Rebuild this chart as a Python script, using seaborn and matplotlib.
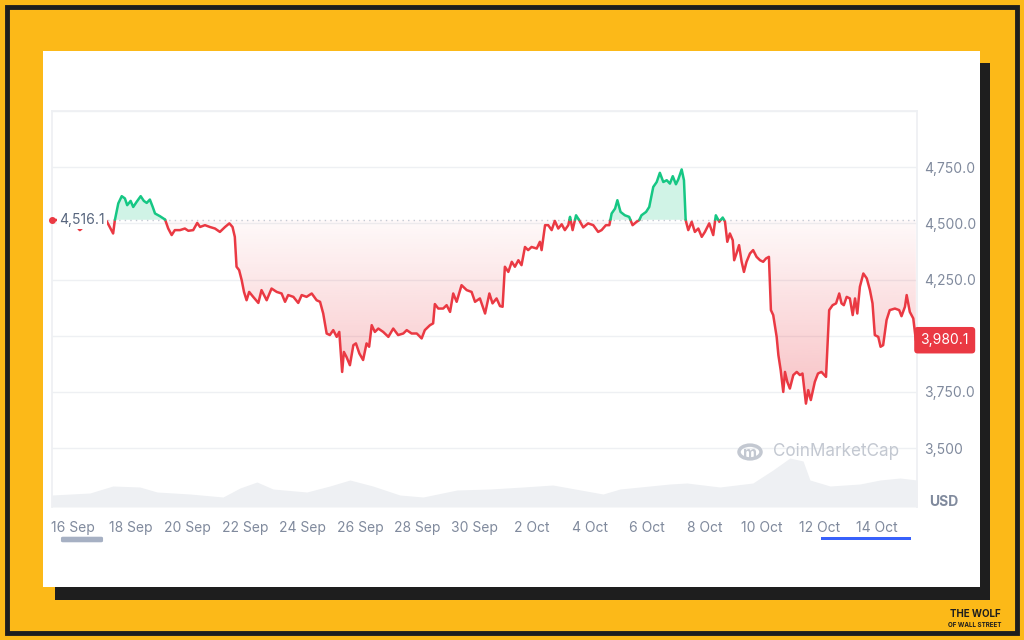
import numpy as np
import pandas as pd
import seaborn as sns
import matplotlib.pyplot as plt
from matplotlib.patches import Rectangle, FancyBboxPatch, Circle
from matplotlib.path import Path
from matplotlib.colors import to_rgb

# price history, days counted from 16 Sep 00:00
price_day = [-0.73, -0.45, -0.10, 0.24, 0.59, 0.94, 1.17, 1.40, 1.46, 1.58, 1.70, 1.81, 1.89, 2.01, 2.10,
             2.22, 2.36, 2.47, 2.57, 2.68, 2.78, 2.86, 3.03, 3.21, 3.32, 3.44, 3.55, 3.73, 3.90, 4.02,
             4.19, 4.33, 4.43, 4.60, 4.77, 4.95, 5.12, 5.30, 5.45, 5.56, 5.64, 5.70, 5.79, 5.88, 5.96,
             6.05, 6.14, 6.28, 6.46, 6.57, 6.75, 6.92, 7.10, 7.27, 7.39, 7.50, 7.68, 7.85, 7.97, 8.14,
             8.32, 8.49, 8.61, 8.72, 8.84, 8.95, 9.07, 9.19, 9.28, 9.38, 9.44, 9.53, 9.65, 9.77, 9.86,
             9.98, 10.11, 10.23, 10.32, 10.41, 10.52, 10.64, 10.81, 10.99, 11.16, 11.33, 11.51, 11.63,
             11.80, 11.98, 12.15, 12.26, 12.44, 12.55, 12.61, 12.73, 12.90, 13.02, 13.14, 13.25, 13.37,
             13.54, 13.72, 13.89, 14.01, 14.18, 14.36, 14.51, 14.62, 14.76, 14.88, 14.97, 15.05, 15.17,
             15.29, 15.40, 15.52, 15.63, 15.75, 15.86, 15.98, 16.16, 16.27, 16.33, 16.45, 16.56, 16.68,
             16.79, 16.91, 17.03, 17.14, 17.26, 17.32, 17.41, 17.53, 17.64, 17.78, 17.95, 18.13, 18.30,
             18.42, 18.57, 18.69, 18.77, 18.89, 18.97, 19.08, 19.23, 19.38, 19.50, 19.64, 19.73, 19.81,
             19.97, 20.08, 20.22, 20.34, 20.45, 20.57, 20.69, 20.80, 20.90, 21.01, 21.09, 21.21, 21.29,
             21.35, 21.44, 21.56, 21.67, 21.79, 21.91, 22.02, 22.17, 22.31, 22.40, 22.52, 22.64, 22.72,
             22.80, 22.89, 22.99, 23.04, 23.12, 23.21, 23.30, 23.38, 23.47, 23.59, 23.70, 23.82, 23.94,
             24.05, 24.15, 24.25, 24.32, 24.40, 24.52, 24.58, 24.66, 24.75, 24.81, 24.89, 24.98, 25.10,
             25.22, 25.33, 25.42, 25.54, 25.62, 25.71, 25.85, 25.96, 26.08, 26.24, 26.35, 26.47, 26.59,
             26.70, 26.78, 26.86, 26.96, 27.07, 27.17, 27.25, 27.33, 27.42, 27.54, 27.66, 27.77, 27.86,
             27.94, 28.06, 28.14, 28.23, 28.35, 28.46, 28.64, 28.79, 28.87, 28.99, 29.05, 29.16, 29.28,
             29.37]
price = [4516, 4514, 4520, 4470, 4512, 4510, 4511, 4455, 4514, 4589, 4621, 4611, 4581, 4600, 4573,
         4596, 4621, 4600, 4591, 4606, 4573, 4544, 4532, 4517, 4477, 4448, 4470, 4470, 4477, 4467,
         4470, 4502, 4484, 4492, 4484, 4477, 4462, 4484, 4500, 4484, 4440, 4307, 4292, 4247, 4195,
         4158, 4195, 4173, 4146, 4203, 4158, 4210, 4195, 4188, 4151, 4181, 4173, 4146, 4181, 4173,
         4188, 4158, 4151, 4099, 4010, 4003, 4025, 3995, 4017, 3839, 3928, 3906, 3869, 3958, 3966,
         3921, 3892, 3966, 3951, 4047, 4017, 4032, 4017, 3995, 4032, 4003, 4010, 4025,
         4010, 4010, 3988, 4025, 4047, 4055, 4141, 4121, 4121, 4136, 4106, 4188, 4151,
         4225, 4203, 4195, 4151, 4166, 4099, 4188, 4144, 4166, 4132, 4129, 4307, 4284,
         4329, 4307, 4336, 4314, 4395, 4381, 4395, 4388, 4418, 4381, 4492, 4492, 4470,
         4511, 4477, 4496, 4470, 4492, 4529, 4470, 4536, 4514, 4482, 4500, 4492, 4462,
         4470, 4492, 4492, 4544, 4566, 4603, 4551, 4536, 4529, 4492, 4507, 4514, 4536,
         4551, 4573, 4662, 4684, 4725, 4684, 4692, 4677, 4710, 4674, 4695, 4740, 4692,
         4514, 4470, 4507, 4462, 4477, 4440, 4462, 4500, 4448, 4536, 4507, 4526, 4507,
         4418, 4455, 4425, 4336, 4366, 4403, 4329, 4284, 4329, 4366, 4381, 4351, 4336,
         4329, 4344, 4351, 4114, 4092, 3995, 3914, 3847, 3750, 3839, 3795, 3765, 3825,
         3839, 3825, 3832, 3698, 3758, 3714, 3795, 3832, 3839, 3817, 4114, 4136, 4144,
         4188, 4144, 4136, 4173, 4166, 4092, 4166, 4099, 4218, 4277, 4255, 4203, 4144,
         4003, 3995, 3951, 3958, 4070, 4114, 4121, 4114, 4087, 4129, 4181, 4106, 4077,
         3980.1]

vol_day = [-0.73, 0.59, 1.39, 2.33, 2.93, 4.08, 5.23, 5.82, 6.41, 6.97, 8.15, 8.95, 9.65, 10.45,
           11.39, 12.20, 13.38, 14.53, 15.68, 16.72, 18.47, 19.06, 20.80, 21.39, 22.54, 23.69,
           24.39, 24.98, 25.44, 25.68, 26.38, 27.42, 28.12, 28.82, 29.41]
volume = [12, 14, 21, 20, 15, 13, 10, 19, 25, 18, 15, 21, 27, 21,
          12, 10, 17, 18, 20, 22, 13, 18, 23, 24, 20, 24,
          37, 49, 46, 27, 21, 23, 27, 29, 27]

open_price = 4516.1
last_price = 3980.1
date_ticks = list(range(0, 29, 2))
date_labels = ['16 Sep', '18 Sep', '20 Sep', '22 Sep', '24 Sep', '26 Sep', '28 Sep', '30 Sep',
               '2 Oct', '4 Oct', '6 Oct', '8 Oct', '10 Oct', '12 Oct', '14 Oct']
price_ticks = [3500, 3750, 4000, 4250, 4500, 4750, 5000]
price_tick_labels = ['3,500', '3,750.0', '', '4,250.0', '4,500.0', '4,750.0', '']

RED = '#ea3943'
GREEN = '#16c784'
GREY_TXT = '#808a9d'

sns.set_theme(style='white')
plt.rcParams['font.family'] = ['Inter', 'DejaVu Sans']

fig = plt.figure(figsize=(10.24, 6.4), dpi=100)
fig.patch.set_facecolor('#fcb918')

# frame, shadow and white card
fig.add_artist(Rectangle((7 / 1024, 7 / 640), 1010 / 1024, 626 / 640, transform=fig.transFigure,
                         fill=False, ec='#1e1e1e', lw=3.5, zorder=-3))
fig.add_artist(Rectangle((55 / 1024, 40 / 640), 935 / 1024, 537 / 640, transform=fig.transFigure,
                         fc='#1e1e1e', ec='none', zorder=-2))
fig.add_artist(Rectangle((43 / 1024, 53 / 640), 937 / 1024, 536 / 640, transform=fig.transFigure,
                         fc='white', ec='none', zorder=-1))

pos = [52 / 1024, 133 / 640, 865 / 1024, 396 / 640]
xlim = (-0.73, 29.41)

# volume in the background
vax = fig.add_axes(pos)
vax.fill_between(vol_day, volume, color='#eef0f3', lw=0)
vax.set_xlim(xlim)
vax.set_ylim(0, 396)
vax.axis('off')

ax = fig.add_axes(pos)
ax.patch.set_visible(False)

# split the line where it crosses the opening price
xs, ys = [price_day[0]], [price[0]]
for i in range(1, len(price_day)):
    x0, y0, x1, y1 = price_day[i - 1], price[i - 1], price_day[i], price[i]
    if (y0 - open_price) * (y1 - open_price) < 0:
        t = (open_price - y0) / (y1 - y0)
        xs.append(x0 + t * (x1 - x0))
        ys.append(open_price)
    xs.append(x1)
    ys.append(y1)
xs, ys = np.array(xs), np.array(ys)

rows = []
unit, prev = 0, None
for k in range(len(xs) - 1):
    side = 'up' if (ys[k] + ys[k + 1]) / 2 >= open_price else 'down'
    if side != prev:
        unit += 1
        rows.append((xs[k], ys[k], unit, side))
        prev = side
    rows.append((xs[k + 1], ys[k + 1], unit, side))
line_df = pd.DataFrame(rows, columns=['day', 'price', 'unit', 'side'])

# fills
ax.fill_between(xs, ys, open_price, where=ys >= open_price, color=GREEN, alpha=0.2, lw=0)
below = ax.fill_between(xs, ys, open_price, where=ys <= open_price, color='none', lw=0)
grad = np.zeros((256, 1, 4))
grad[..., :3] = to_rgb(RED)
grad[:, 0, 3] = np.linspace(0.03, 0.32, 256)
img = ax.imshow(grad, extent=[xlim[0], xlim[1], 3680, open_price], aspect='auto',
                origin='upper', zorder=1)
img.set_clip_path(Path.make_compound_path(*below.get_paths()), ax.transData)

sns.lineplot(data=line_df, x='day', y='price', units='unit', hue='side', estimator=None,
             palette={'up': GREEN, 'down': RED}, sort=False, lw=1.8, legend=False, ax=ax, zorder=3)

ax.axhline(open_price, color='#c4c9d3', lw=1, ls=(0, (1, 3)), zorder=2)
ax.plot(price_day[0], open_price, 'o', color=RED, ms=4, zorder=6, clip_on=False)
ax.text(-0.48, open_price, '4,516.1', fontsize=10, color='#58667e', va='center', ha='left', zorder=5,
        bbox=dict(fc='white', ec='none', pad=1.5))

ax.set_xlim(xlim)
ax.set_ylim(3238, 5000)
ax.set_xticks(date_ticks)
ax.set_xticklabels(date_labels)
ax.set_yticks(price_ticks)
ax.set_yticklabels(price_tick_labels)
ax.yaxis.tick_right()
ax.tick_params(axis='x', length=0, pad=10, labelsize=10, labelcolor=GREY_TXT)
ax.tick_params(axis='y', length=0, pad=5, labelsize=10, labelcolor=GREY_TXT)
ax.grid(axis='y', color='#eef0f3', lw=1)
ax.set_xlabel('')
ax.set_ylabel('')
for s in ['left', 'right', 'top']:
    ax.spines[s].set_color('#eef0f3')
ax.spines['bottom'].set_visible(False)

# last price tag
ax.text(1.004, last_price, '3,980.1', transform=ax.get_yaxis_transform(), fontsize=10, color='white',
        va='center', ha='left', zorder=6,
        bbox=dict(boxstyle='round,pad=0.45,rounding_size=0.25', fc=RED, ec='none'))
fig.text(944 / 1024, 1 - 502 / 640, 'USD', fontsize=10, fontweight='bold', color=GREY_TXT,
         ha='center', va='center')

# watermark
ax.text(0.834, 0.139, 'CoinMarketCap', transform=ax.transAxes, fontsize=12.3, color='#c3c8d1',
        va='center', ha='left', zorder=2)
fig.add_artist(Circle((750 / 1024, 1 - 452 / 640), 11 / 1024, transform=fig.transFigure,
                      fill=False, ec='#c3c8d1', lw=2.5))
fig.text(750 / 1024, 1 - 453 / 640, 'm', fontsize=11, fontweight='bold', color='#c3c8d1',
         ha='center', va='center')

# range slider marks
fig.add_artist(FancyBboxPatch((63 / 1024, 1 - 541 / 640), 38 / 1024, 3 / 640, transform=fig.transFigure,
                              boxstyle='round,pad=0.002', fc='#a6b0c3', ec='none'))
fig.add_artist(Rectangle((821 / 1024, 1 - 540 / 640), 90 / 1024, 3 / 640, transform=fig.transFigure,
                         fc='#3861fb', ec='none'))

# logo text
fig.text(975 / 1024, 1 - 614 / 640, 'THE WOLF', fontsize=7, fontweight='bold', color='#1e1e1e',
         ha='center', va='center')
fig.text(975 / 1024, 1 - 625 / 640, 'OF WALL STREET', fontsize=4.5, fontweight='bold', color='#1e1e1e',
         ha='center', va='center')

fig.savefig('out.png', dpi=100, facecolor=fig.get_facecolor())
